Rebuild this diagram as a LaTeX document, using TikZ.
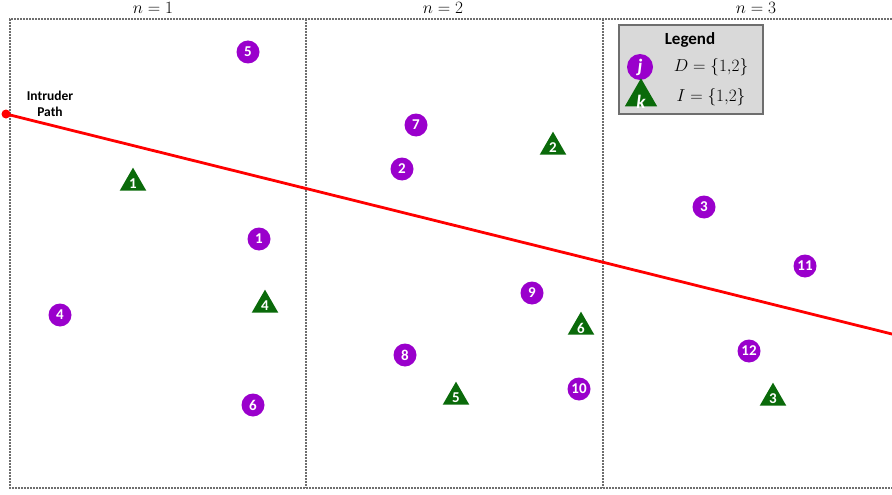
\documentclass[tikz,border=0pt]{standalone}
\usepackage{fontspec}
\setmainfont{Liberation Serif}
\newfontfamily\calib{Carlito}
\usetikzlibrary{shapes.geometric}
\definecolor{dpurple}{HTML}{9A00CC}
\definecolor{dgreen}{HTML}{0A6A0A}
\definecolor{frame}{HTML}{6E6E6E}
\definecolor{legfill}{HTML}{D9D9D9}
\tikzset{
  det/.style={circle, fill=dpurple, minimum size=23pt, inner sep=0pt,
    text=white, font=\calib\bfseries\fontsize{15}{15}\selectfont},
  tri/.style={isosceles triangle, isosceles triangle apex angle=60, shape border rotate=90,
    fill=dgreen, minimum height=23pt, minimum width=25pt, inner sep=0pt},
  trinum/.style={text=white, font=\calib\bfseries\fontsize{15}{15}\selectfont},
  zone/.style={draw=frame, line width=1.2pt, dash pattern=on 2pt off 1pt},
  path/.style={draw=red, line width=2.8pt},
  title/.style={font=\fontsize{17}{17}\selectfont, anchor=base}
}
\begin{document}
\begin{tikzpicture}[x=1pt, y=-1pt]
\useasboundingbox (0,0) rectangle (892,495);
\fill[white] (0,0) rectangle (892,495);

% planning zones
\draw[zone] (892,19) -- (10,19) -- (10,488) -- (892,488);
\draw[zone] (306,19) -- (306,488);
\draw[zone] (603,19) -- (603,488);

% zone titles
\node[title] (t1) at (153,14) {$n=1$};
\node[title] (t2) at (443,14) {$n=2$};
\node[title] (t3) at (756,14) {$n=3$};

% intruder path
\coordinate (ps) at (6,114);
\coordinate (pe) at (900,336);
\draw[path] (ps) -- (pe);
\fill[red] (ps) circle (4.5pt);
\node[font=\calib\bfseries\fontsize{13.5}{15.5}\selectfont, align=center] (ip) at (50,104) {Intruder\\Path};

% detectors
\node[det] (d5) at (248,52) {5};
\node[det] (d7) at (416,125) {7};
\node[det] (d2) at (402,169) {2};
\node[det] (d1) at (259,239) {1};
\node[det] (d4) at (60,315) {4};
\node[det] (d6) at (253,405) {6};
\node[det] (d9) at (532,293) {9};
\node[det] (d8) at (405,355) {8};
\node[det] (d10) at (579,389) {10};
\node[det] (d3) at (704,207) {3};
\node[det] (d11) at (805,266) {11};
\node[det] (d12) at (749,351) {12};

% intruders
\foreach \n/\x/\y in {1/133/182, 4/265/304, 2/553/146, 6/581/326, 5/456/396, 3/773/397}{
  \node[tri] (k\n) at (\x,\y+1) {};
  \node[trinum] (kn\n) at (\x,\y+2) {\n};
}

% legend
\node[draw=frame, fill=legfill, line width=1.2pt, minimum width=144pt, minimum height=89pt, inner sep=0pt] (leg) at (691,69.5) {};
\node[font=\calib\bfseries\fontsize{17}{17}\selectfont] (legt) at (690,40) {Legend};
\node[det, minimum size=26pt, font=\calib\bfseries\itshape\fontsize{19}{19}\selectfont] (lj) at (640,67) {j};
\node[font=\fontsize{17.5}{17.5}\selectfont] (lD) at (711,67) {$D=\{1{,}2\}$};
\node[tri, minimum height=28pt, minimum width=29pt] (lk) at (641,97) {};
\node[trinum, font=\calib\bfseries\itshape\fontsize{19}{19}\selectfont] (lkn) at (641,102) {k};
\node[font=\fontsize{17.5}{17.5}\selectfont] (lI) at (711,97) {$I=\{1{,}2\}$};
\end{tikzpicture}
\end{document}
